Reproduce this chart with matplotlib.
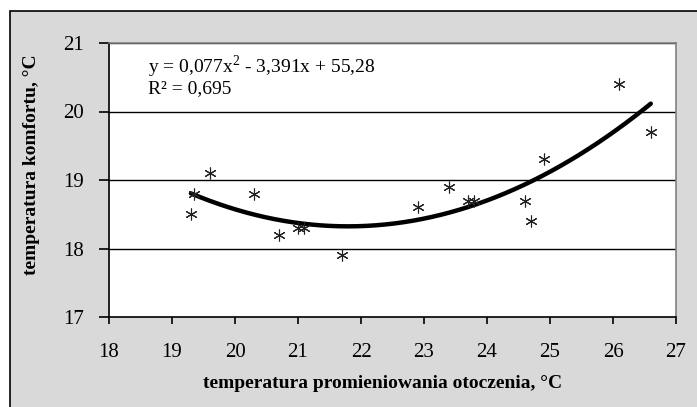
import numpy as np
import matplotlib
matplotlib.use('Agg')
import matplotlib.pyplot as plt
from matplotlib.patches import Rectangle

# temperatura promieniowania otoczenia [°C] vs temperatura komfortu [°C]
t_rad = [19.3, 19.35, 19.6, 20.3, 20.7, 21.0, 21.1, 21.7, 22.9, 23.4,
         23.7, 23.8, 24.6, 24.7, 24.9, 26.1, 26.6]
t_komf = [18.5, 18.8, 19.1, 18.8, 18.2, 18.3, 18.3, 17.9, 18.6, 18.9,
          18.7, 18.7, 18.7, 18.4, 19.3, 20.4, 19.7]
x_ticks = [18, 19, 20, 21, 22, 23, 24, 25, 26, 27]
y_ticks = [17, 18, 19, 20, 21]
eq_text = 'y = 0,077x$^{2}$ - 3,391x + 55,28'
r2_text = 'R² = 0,695'

plt.rcParams['font.family'] = ['Liberation Serif', 'DejaVu Serif']
plt.rcParams['mathtext.fontset'] = 'custom'
plt.rcParams['mathtext.rm'] = 'Liberation Serif'

fig = plt.figure(figsize=(6.97, 4.07), dpi=100)
fig.patch.set_facecolor('white')
# grey chart area with black frame (left/top visible)
fig.patches.append(Rectangle((10 / 697, -0.1), 1.2, 1 - 11 / 407 + 0.1,
                             transform=fig.transFigure, facecolor='#d9d9d9',
                             edgecolor='black', linewidth=1.2, zorder=-10))

ax = fig.add_axes([109 / 697, 1 - 317 / 407, (676 - 109) / 697, (317 - 43) / 407])
ax.set_facecolor('white')
ax.set_xlim(18, 27)
ax.set_ylim(17, 21)
ax.set_xticks(x_ticks)
ax.set_yticks(y_ticks)

for y in y_ticks[1:]:
    ax.axhline(y, color='black', lw=1, zorder=1)

# trend line (2nd order polynomial, as in Excel)
coef = np.polyfit(t_rad, t_komf, 2)
xs = np.linspace(min(t_rad), max(t_rad), 200)
ax.plot(xs, np.polyval(coef, xs), color='black', lw=3.2, zorder=2,
        solid_capstyle='round')

ax.plot(t_rad, t_komf, linestyle='none', marker=(6, 2, 0), markersize=8.5,
        markeredgecolor='#222222', markeredgewidth=0.8, zorder=3)

for side in ['top', 'right']:
    ax.spines[side].set_color('#808080')
    ax.spines[side].set_linewidth(1.2)
for side in ['left', 'bottom']:
    ax.spines[side].set_color('black')
    ax.spines[side].set_linewidth(1.2)

ax.tick_params(axis='x', direction='out', length=5, width=1.2, pad=14,
               labelsize=15)
ax.tick_params(axis='y', direction='out', length=7, width=1.2, pad=11,
               labelsize=15)

ax.text(0.069, 0.915, eq_text, transform=ax.transAxes, fontsize=14,
        va='center', ha='left')
ax.text(0.069, 0.835, r2_text, transform=ax.transAxes, fontsize=14,
        va='center', ha='left')

fig.text(383 / 697, 1 - 383 / 407, 'temperatura promieniowania otoczenia, °C',
         fontsize=14, fontweight='bold', ha='center', va='center')
fig.text(31 / 697, 1 - 165 / 407, 'temperatura komfortu, °C',
         fontsize=14, fontweight='bold', ha='center', va='center',
         rotation=90)

fig.savefig('out.png', dpi=100)
